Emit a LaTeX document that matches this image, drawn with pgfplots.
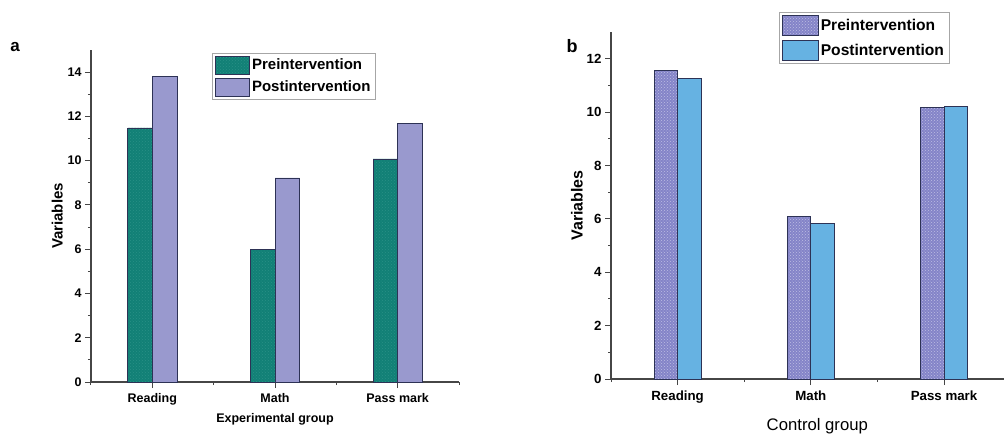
\documentclass[border=0pt]{standalone}
\usepackage{pgfplots}
\pgfplotsset{compat=1.18}
\usepackage{fontspec}
\setmainfont{Liberation Sans}
\usetikzlibrary{patterns}

\definecolor{tealpre}{RGB}{18,128,118}
\definecolor{tealdot}{RGB}{40,145,135}
\definecolor{lavpost}{RGB}{153,153,206}
\definecolor{lavpre}{RGB}{132,132,200}
\definecolor{lavdot}{RGB}{190,190,228}
\definecolor{skypost}{RGB}{102,178,226}
\definecolor{barline}{RGB}{45,50,85}
\definecolor{axisgray}{RGB}{70,70,70}

\pgfplotsset{
  legpatch/.style={legend image code/.code={\draw[##1] (0pt,-9pt) rectangle (34pt,9pt);}},
  legpatchb/.style={legend image code/.code={\draw[##1] (0pt,-10pt) rectangle (36pt,10pt);}},
  panel/.style={
    scale only axis, ybar,
    axis x line=bottom, axis y line=left,
    axis line style={-, draw=axisgray, line width=1.2pt},
    tick style={draw=axisgray, line width=1pt},
    tick align=outside, major tick length=6pt, minor tick length=3pt,
    xmin=0.5, xtick={1,2,3}, xticklabels={Reading,Math,Pass mark},
    minor xtick={0.5,1.5,2.5,3.5},
    ymin=0, minor y tick num=1,
    /pgf/number format/assume math mode=true,
    legend cell align=left,
    legend style={anchor=north west, draw=black!35, line width=0.6pt,
      inner xsep=3pt, inner ysep=3pt,
      /tikz/every even column/.append style={column sep=4pt}},
  },
}

\begin{document}
\begin{tikzpicture}[x=1pt,y=1pt]
\useasboundingbox (0,0) rectangle (1004,437);

% Panel a: experimental group
\begin{axis}[panel,
  at={(91pt,55pt)}, anchor=origin, width=368pt, height=332pt,
  xmax=3.5, ymax=15, ytick={0,2,...,14},
  ticklabel style={font=\bfseries\fontsize{12.5}{14}\selectfont},
  xticklabel style={yshift=-2pt},
  xlabel={Experimental group},
  xlabel style={font=\bfseries\fontsize{12.5}{14}\selectfont, at={(axis description cs:0.5,0)}, anchor=north, yshift=-28pt},
  ylabel={Variables},
  ylabel style={font=\bfseries\fontsize{15}{17}\selectfont, at={(axis description cs:-0.092,0.5)}, anchor=center},
  legend style={at={(0.329,0.992)}, font=\bfseries\fontsize{15}{17}\selectfont, row sep=3pt},
]
\addplot[legpatch, fill=tealpre, draw=barline, line width=0.7pt, bar width=0.2, bar shift=-0.1,
  postaction={pattern=crosshatch dots, pattern color=tealdot}]
  coordinates {(1,11.48) (2,5.99) (3,10.08)};
\addplot[legpatch, fill=lavpost, draw=barline, line width=0.7pt, bar width=0.2, bar shift=0.1]
  coordinates {(1,13.8) (2,9.22) (3,11.7)};
\legend{Preintervention,Postintervention}
\end{axis}

% Panel b: control group
\begin{axis}[panel,
  at={(611pt,58pt)}, anchor=origin, width=393pt, height=347pt,
  xmax=3.45, ymax=13, ytick={0,2,...,12},
  ticklabel style={font=\bfseries\fontsize{13.3}{15}\selectfont},
  xticklabel style={yshift=-2pt},
  xlabel={Control group},
  xlabel style={font=\fontsize{16.7}{19}\selectfont, at={(axis description cs:0.525,0)}, anchor=north, yshift=-36pt},
  ylabel={Variables},
  ylabel style={font=\bfseries\fontsize{16}{18}\selectfont, at={(axis description cs:-0.087,0.5)}, anchor=center},
  legend style={at={(0.427,1.058)}, font=\bfseries\fontsize{15.6}{17}\selectfont, row sep=4pt},
]
\addplot[legpatchb, fill=lavpre, draw=barline, line width=0.7pt, bar width=0.175, bar shift=-0.0875,
  postaction={pattern=crosshatch dots, pattern color=lavdot}]
  coordinates {(1,11.56) (2,6.08) (3,10.17)};
\addplot[legpatchb, fill=skypost, draw=barline, line width=0.7pt, bar width=0.175, bar shift=0.0875]
  coordinates {(1,11.26) (2,5.84) (3,10.2)};
\legend{Preintervention,Postintervention}
\end{axis}

% Panel letters
\node[font=\bfseries\fontsize{17}{19}\selectfont] at (15,389.5) {a};
\node[font=\bfseries\fontsize{18}{20}\selectfont] at (572,391) {b};
\end{tikzpicture}
\end{document}
